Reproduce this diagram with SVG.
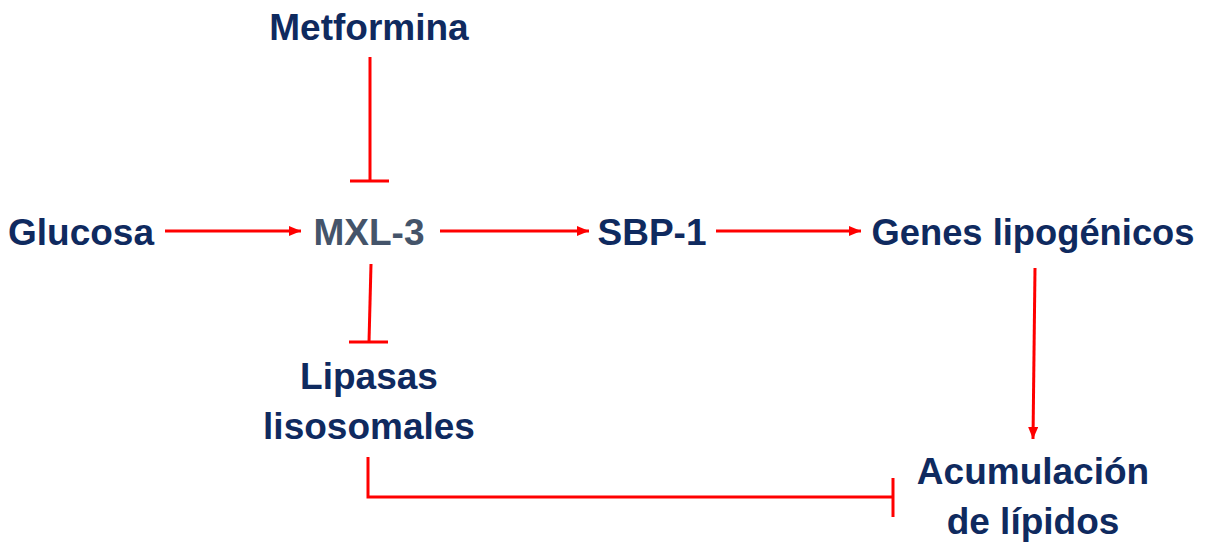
<svg xmlns="http://www.w3.org/2000/svg" width="1208" height="546" viewBox="0 0 1208 546">
<style>
.t{font-family:"Liberation Sans",Arial,sans-serif;font-weight:bold;font-size:37px;fill:#0F2A5F;text-anchor:middle}
.g{fill:#44546A}
.c{stroke:#FF0000;stroke-width:3;fill:none}
</style>
<defs>
<marker id="ah" markerWidth="12" markerHeight="10" refX="12" refY="5" orient="auto" markerUnits="userSpaceOnUse">
<path d="M0,0 L12,5 L0,10 Z" fill="#FF0000"/>
</marker>
</defs>
<g id="connectors">
<line class="c" x1="370" y1="57" x2="370" y2="181"/>
<line class="c" x1="350" y1="181" x2="389" y2="181"/>
<line class="c" x1="165" y1="231" x2="301" y2="231" marker-end="url(#ah)"/>
<line class="c" x1="440" y1="231" x2="589" y2="231" marker-end="url(#ah)"/>
<line class="c" x1="716" y1="231" x2="861" y2="231" marker-end="url(#ah)"/>
<line class="c" x1="371" y1="264" x2="369" y2="342"/>
<line class="c" x1="349" y1="342" x2="388" y2="342"/>
<line class="c" x1="1035" y1="268" x2="1033" y2="439" marker-end="url(#ah)"/>
<polyline class="c" points="368,457 368,497 893,497"/>
<line class="c" x1="893" y1="478" x2="893" y2="517"/>
</g>
<g id="metformina"><text class="t" x="369" y="40">Metformina</text></g>
<g id="glucosa"><text class="t" x="81" y="245">Glucosa</text></g>
<g id="mxl3"><text class="t g" x="369" y="245">MXL-3</text></g>
<g id="sbp1"><text class="t" x="652" y="245">SBP-1</text></g>
<g id="genes"><text class="t" x="1033" y="245" textLength="323" lengthAdjust="spacingAndGlyphs">Genes lipogénicos</text></g>
<g id="lipasas"><text class="t" x="369" y="389">Lipasas</text><text class="t" x="369" y="439">lisosomales</text></g>
<g id="acumulacion"><text class="t" x="1033" y="484">Acumulación</text><text class="t" x="1033" y="534">de lípidos</text></g>
</svg>
